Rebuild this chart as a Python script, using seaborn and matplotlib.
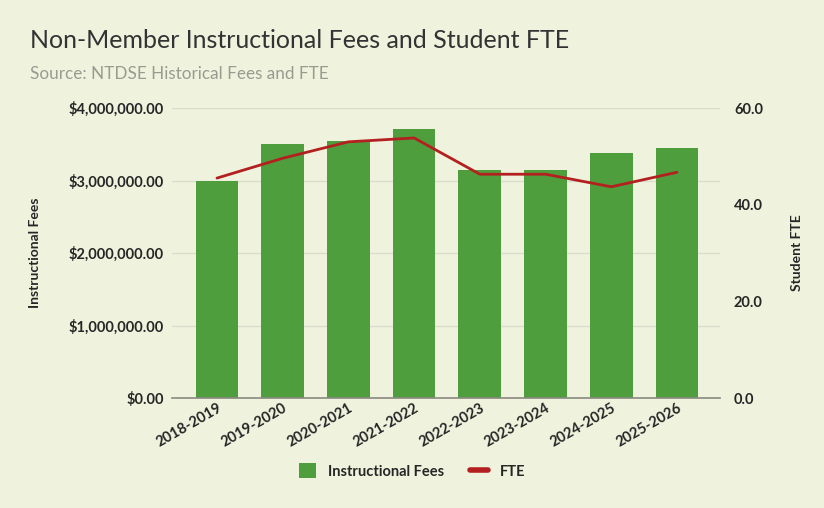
import pandas as pd
import numpy as np
import seaborn as sns
import matplotlib.pyplot as plt
from matplotlib.ticker import FuncFormatter, FixedLocator
from matplotlib.patches import Patch
from matplotlib.lines import Line2D

#data
years = ["2018-2019", "2019-2020", "2020-2021", "2021-2022",
         "2022-2023", "2023-2024", "2024-2025", "2025-2026"]
fees = [3000000, 3500000, 3550000, 3710000, 3140000, 3150000, 3380000, 3450000]
fte = [45.5, 49.6, 53.0, 53.8, 46.3, 46.3, 43.7, 46.7]

bg = "#eff3de"
bar_color = "#4f9e3d"
line_color = "#b3201f"

sns.set_theme(style="white")
plt.rcParams["font.family"] = ["Lato", "DejaVu Sans"]

df = pd.DataFrame({"Year": years, "Fees": fees, "FTE": fte})

fig = plt.figure(figsize=(8.24, 5.08), dpi=100, facecolor=bg)
ax = fig.add_axes([172/824, 1-398/508, 548/824, 290/508])
ax.set_facecolor(bg)

sns.barplot(data=df, x="Year", y="Fees", color=bar_color, width=0.65,
            saturation=1, edgecolor="none", linewidth=0, ax=ax, zorder=2)
ax.set_ylim(0, 4000000)
ax.set_xlim(-0.685, 7.655)
ax.yaxis.set_major_locator(FixedLocator([0, 1e6, 2e6, 3e6, 4e6]))
ax.yaxis.set_major_formatter(FuncFormatter(lambda v, p: f"${v:,.2f}"))
ax.grid(axis="y", color="#d9dccb", linewidth=1, zorder=0)
for s in ["top", "right", "left"]:
    ax.spines[s].set_visible(False)
ax.spines["bottom"].set_color("#8a8a80")
ax.spines["bottom"].set_linewidth(1.2)
ax.tick_params(axis="y", length=0, pad=6, labelsize=10.5)
ax.tick_params(axis="x", length=0, pad=2, labelsize=10.5)
for lab in ax.get_yticklabels():
    lab.set_fontweight("bold")
for lab in ax.get_xticklabels():
    lab.set_fontweight("bold")
    lab.set_rotation(30)
    lab.set_ha("right")
    lab.set_rotation_mode("anchor")
ax.set_xlabel("")
ax.set_ylabel("Instructional Fees", fontsize=10, fontweight="bold", labelpad=20)

ax2 = ax.twinx()
sns.lineplot(x=np.arange(len(years)), y=fte, color=line_color, linewidth=2, ax=ax2)
ax2.set_ylim(0, 60)
ax2.yaxis.set_major_locator(FixedLocator([0, 20, 40, 60]))
ax2.yaxis.set_major_formatter(FuncFormatter(lambda v, p: f"{v:.1f}"))
for s in ["top", "right", "left", "bottom"]:
    ax2.spines[s].set_visible(False)
ax2.tick_params(axis="y", length=0, pad=10, labelsize=10.5)
for lab in ax2.get_yticklabels():
    lab.set_fontweight("bold")
ax2.set_ylabel("Student FTE", fontsize=10, fontweight="bold", labelpad=20)

fig.text(30/824, 1-40/508, "Non-Member Instructional Fees and Student FTE",
         fontsize=18, color="#333333", va="center", ha="left")
fig.text(30/824, 1-74/508, "Source: NTDSE Historical Fees and FTE",
         fontsize=12.3, color="#9a9a90", va="center", ha="left")

handles = [Patch(facecolor=bar_color, edgecolor="none"),
           Line2D([0], [0], color=line_color, linewidth=4)]
fig.legend(handles, ["Instructional Fees", "FTE"], loc="center",
           bbox_to_anchor=(412/824, 1-471/508), ncol=2, frameon=False,
           prop={"weight": "bold", "size": 10.5}, handlelength=1.2,
           handleheight=1.2, columnspacing=1.8)

plt.savefig("out.png", dpi=100, facecolor=bg)
